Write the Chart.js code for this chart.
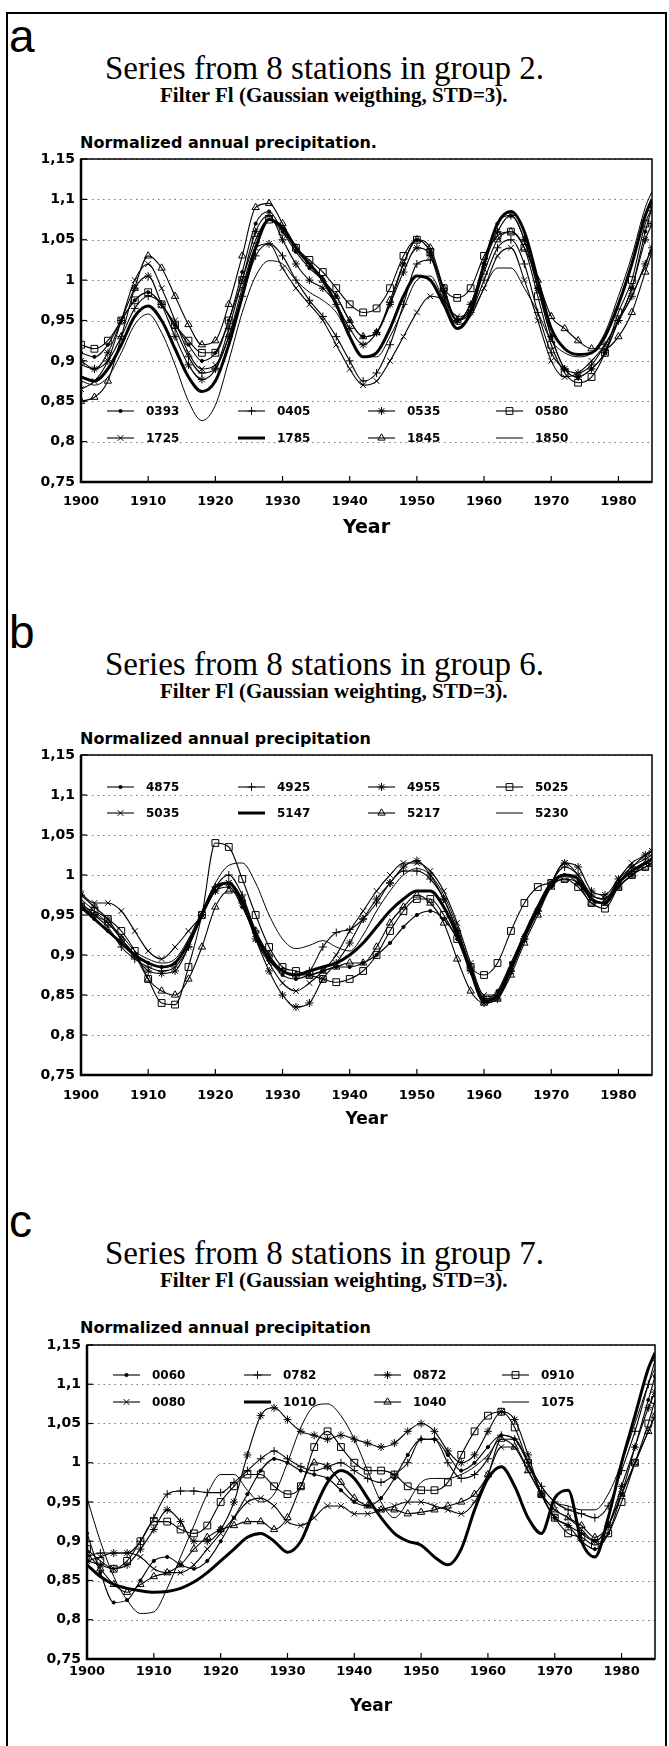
<!DOCTYPE html>
<html>
<head>
<meta charset="utf-8">
<script src="https://cdn.jsdelivr.net/npm/chart.js@4.4.0/dist/chart.umd.min.js"></script>
<style>
  body { margin: 0; background: #fff; width: 669px; height: 1746px; position: relative; overflow: hidden; }
  .frame { position: absolute; left: 6px; top: 12px; width: 657px; height: 1800px; border: 2px solid #000; border-bottom: none; }
  .txt { position: absolute; white-space: nowrap; line-height: 1; color: #000; }
  .letter { font-family: "Liberation Sans"; font-size: 46px; left: 9px; }
  .title { font-family: "Liberation Serif"; font-size: 33px; left: 105px; }
  .sub { font-family: "Liberation Serif"; font-weight: bold; font-size: 21px; left: 160px; }
  .yhead { font-family: "DejaVu Sans"; font-weight: bold; font-size: 16px; left: 80px; }
  canvas { position: absolute; left: 0; }
</style>
</head>
<body>
<div class="frame"></div>

<div class="txt letter" style="top:13px">a</div>
<div class="txt title" style="top:52px">Series from 8 stations in group 2.</div>
<div class="txt sub" style="top:85px">Filter Fl (Gaussian weigthing, STD=3).</div>
<div class="txt yhead" style="top:135px">Normalized annual precipitation.</div>

<div class="txt letter" style="top:609px">b</div>
<div class="txt title" style="top:648px">Series from 8 stations in group 6.</div>
<div class="txt sub" style="top:681px">Filter Fl (Gaussian weighting, STD=3).</div>
<div class="txt yhead" style="top:731px">Normalized annual precipitation</div>

<div class="txt letter" style="top:1198px">c</div>
<div class="txt title" style="top:1237px">Series from 8 stations in group 7.</div>
<div class="txt sub" style="top:1270px">Filter Fl (Gaussian weighting, STD=3).</div>
<div class="txt yhead" style="top:1320px">Normalized annual precipitation</div>

<script>
// Years sampled every 2 years, plus the last year
const years = [1900,1902,1904,1906,1908,1910,1912,1914,1916,1918,1920,
               1922,1924,1926,1928,1930,1932,1934,1936,1938,1940,1942,
               1944,1946,1948,1950,1952,1954,1956,1958,1960,1962,1964,
               1966,1968,1970,1972,1974,1976,1978,1980,1982,1984,1985];
const xTicks = [1900,1910,1920,1930,1940,1950,1960,1970,1980];
const yTicks = [0.75,0.8,0.85,0.9,0.95,1,1.05,1.1,1.15];

// Group 2
const stationsA = ['0393','0405','0535','0580','1725','1785','1845','1850'];
const a0393 = [0.910,0.905,0.920,0.950,0.975,0.985,0.970,0.945,0.920,0.900,0.910,
               0.950,1.010,1.070,1.085,1.060,1.035,1.015,1.000,0.980,0.950,0.930,
               0.935,0.970,1.020,1.050,1.035,0.985,0.950,0.970,1.020,1.070,1.080,
               1.050,0.990,0.930,0.890,0.880,0.890,0.910,0.950,0.990,1.060,1.090];
const a0405 = [0.895,0.890,0.900,0.930,0.965,0.980,0.970,0.940,0.905,0.885,0.890,
               0.930,0.980,1.030,1.045,1.030,1.000,0.975,0.955,0.930,0.900,0.875,
               0.885,0.920,0.970,1.020,1.025,0.990,0.950,0.960,1.000,1.040,1.050,
               1.020,0.960,0.910,0.890,0.885,0.895,0.920,0.950,0.980,1.020,1.040];
const a0535 = [0.900,0.890,0.910,0.950,0.990,1.005,0.970,0.930,0.895,0.877,0.890,
               0.940,1.000,1.060,1.080,1.050,1.020,1.000,0.990,0.970,0.940,0.920,
               0.935,0.970,1.010,1.040,1.030,0.980,0.950,0.970,1.020,1.060,1.080,
               1.050,0.990,0.930,0.890,0.880,0.890,0.910,0.950,0.990,1.050,1.070];
const a0580 = [0.920,0.915,0.925,0.950,0.975,0.985,0.970,0.945,0.925,0.910,0.910,
               0.950,1.000,1.050,1.075,1.060,1.040,1.025,1.010,0.990,0.970,0.960,
               0.965,0.990,1.030,1.050,1.035,0.990,0.978,0.990,1.030,1.055,1.060,
               1.040,0.980,0.920,0.885,0.873,0.880,0.910,0.960,1.000,1.070,1.090];
const a1725 = [0.865,0.875,0.900,0.950,1.000,1.020,0.990,0.950,0.910,0.890,0.895,
               0.930,0.990,1.040,1.045,1.015,0.990,0.970,0.950,0.920,0.890,0.870,
               0.875,0.900,0.930,0.960,0.980,0.975,0.955,0.960,0.990,1.030,1.040,
               1.000,0.950,0.900,0.880,0.885,0.900,0.920,0.950,0.980,1.020,1.040];
const a1785 = [0.880,0.875,0.890,0.920,0.955,0.968,0.950,0.915,0.880,0.862,0.875,
               0.920,0.980,1.040,1.075,1.065,1.040,1.020,1.000,0.970,0.930,0.905,
               0.910,0.940,0.980,1.005,1.000,0.970,0.940,0.960,1.020,1.070,1.085,
               1.060,1.000,0.940,0.915,0.908,0.910,0.930,0.970,1.020,1.080,1.100];
const a1845 = [0.850,0.855,0.875,0.930,0.990,1.030,1.015,0.980,0.945,0.920,0.925,
               0.970,1.030,1.090,1.095,1.070,1.040,1.020,1.000,0.980,0.950,0.930,
               0.935,0.975,1.020,1.050,1.040,0.990,0.950,0.965,1.010,1.050,1.060,
               1.040,1.000,0.955,0.940,0.925,0.915,0.915,0.930,0.960,1.010,1.035];
const a1850 = [0.875,0.870,0.880,0.910,0.945,0.958,0.935,0.895,0.850,0.826,0.845,
               0.900,0.960,1.005,1.024,1.020,1.000,0.985,0.975,0.960,0.930,0.905,
               0.905,0.930,0.965,1.000,1.005,0.975,0.945,0.955,0.990,1.015,1.015,
               0.990,0.960,0.925,0.910,0.905,0.910,0.935,0.980,1.030,1.090,1.110];

// Group 6
const stationsB = ['4875','4925','4955','5025','5035','5147','5217','5230'];
const b4875 = [0.960,0.945,0.930,0.915,0.900,0.890,0.885,0.890,0.915,0.950,0.980,
               0.985,0.960,0.925,0.895,0.875,0.870,0.875,0.880,0.885,0.885,0.890,
               0.900,0.915,0.935,0.950,0.955,0.945,0.920,0.880,0.845,0.855,0.890,
               0.925,0.955,0.985,1.000,0.990,0.970,0.965,0.985,1.000,1.015,1.020];
const b4925 = [0.965,0.950,0.935,0.910,0.895,0.885,0.880,0.885,0.910,0.950,0.985,
               1.000,0.975,0.930,0.900,0.880,0.875,0.880,0.910,0.928,0.932,0.945,
               0.965,0.990,1.005,1.005,0.995,0.970,0.930,0.885,0.845,0.850,0.880,
               0.920,0.955,0.990,1.010,1.000,0.975,0.970,0.990,1.010,1.020,1.025];
const b4955 = [0.975,0.960,0.945,0.920,0.900,0.880,0.877,0.880,0.910,0.950,0.980,
               0.990,0.965,0.920,0.880,0.850,0.835,0.840,0.870,0.890,0.915,0.945,
               0.970,0.990,1.010,1.018,1.000,0.970,0.930,0.880,0.840,0.845,0.880,
               0.920,0.955,0.990,1.015,1.010,0.980,0.975,0.995,1.010,1.025,1.030];
const b5025 = [0.960,0.955,0.945,0.930,0.905,0.870,0.840,0.838,0.885,0.950,1.040,
               1.035,0.995,0.950,0.910,0.885,0.880,0.875,0.870,0.866,0.870,0.880,
               0.900,0.930,0.955,0.970,0.970,0.950,0.920,0.885,0.875,0.890,0.930,
               0.965,0.985,0.990,0.995,0.985,0.965,0.958,0.985,1.000,1.010,1.015];
const b5035 = [0.977,0.965,0.965,0.955,0.930,0.905,0.895,0.910,0.930,0.950,0.980,
               0.990,0.970,0.920,0.890,0.865,0.855,0.865,0.880,0.900,0.930,0.955,
               0.980,1.000,1.015,1.015,1.005,0.980,0.940,0.890,0.850,0.850,0.880,
               0.920,0.955,0.990,1.015,1.000,0.975,0.970,0.995,1.015,1.025,1.030];
const b5147 = [0.960,0.945,0.930,0.915,0.900,0.890,0.885,0.890,0.915,0.950,0.985,
               0.990,0.965,0.925,0.895,0.880,0.875,0.880,0.885,0.890,0.900,0.915,
               0.935,0.955,0.970,0.980,0.980,0.960,0.925,0.880,0.842,0.850,0.885,
               0.925,0.960,0.990,1.000,0.995,0.970,0.965,0.990,1.005,1.015,1.020];
const b5217 = [0.960,0.950,0.940,0.920,0.900,0.870,0.855,0.850,0.870,0.910,0.960,
               0.980,0.970,0.930,0.900,0.880,0.875,0.875,0.880,0.885,0.890,0.890,
               0.910,0.940,0.960,0.975,0.965,0.940,0.895,0.855,0.840,0.845,0.875,
               0.915,0.950,0.985,0.995,0.990,0.965,0.965,0.985,1.000,1.010,1.015];
const b5230 = [0.970,0.955,0.940,0.925,0.905,0.895,0.890,0.895,0.920,0.955,0.990,
               1.012,1.015,0.990,0.950,0.920,0.908,0.912,0.918,0.910,0.905,0.925,
               0.955,0.980,1.000,1.008,1.000,0.975,0.935,0.885,0.848,0.850,0.880,
               0.920,0.955,0.985,1.000,0.995,0.970,0.965,0.985,1.000,1.015,1.020];

// Group 7
const stationsC = ['0060','0782','0872','0910','0080','1010','1040','1075'];
const c0060 = [0.910,0.860,0.822,0.825,0.850,0.875,0.880,0.870,0.865,0.875,0.900,
               0.930,0.960,0.990,1.005,1.000,0.990,0.985,0.980,0.965,0.950,0.945,
               0.955,0.980,1.010,1.030,1.030,1.010,0.990,1.000,1.020,1.035,1.030,
               1.000,0.960,0.930,0.920,0.900,0.890,0.910,0.960,1.020,1.080,1.110];
const c0782 = [0.880,0.885,0.885,0.885,0.900,0.930,0.960,0.964,0.964,0.962,0.962,
               0.975,0.990,1.005,1.015,1.005,0.995,0.990,0.995,1.000,0.990,0.980,
               0.975,0.985,1.000,1.030,1.030,1.000,0.980,0.985,1.005,1.035,1.030,
               1.000,0.970,0.950,0.940,0.935,0.930,0.945,0.990,1.040,1.100,1.130];
const c0872 = [0.875,0.870,0.865,0.870,0.890,0.915,0.940,0.925,0.900,0.900,0.915,
               0.950,1.010,1.060,1.070,1.055,1.040,1.035,1.030,1.035,1.030,1.025,
               1.020,1.025,1.040,1.050,1.040,1.015,1.000,1.010,1.040,1.065,1.055,
               1.010,0.960,0.930,0.920,0.910,0.900,0.920,0.970,1.020,1.070,1.090];
const c0910 = [0.890,0.875,0.865,0.875,0.900,0.925,0.925,0.915,0.910,0.920,0.950,
               0.970,0.985,0.985,0.970,0.960,0.970,1.020,1.040,1.020,1.000,0.990,
               0.990,0.985,0.970,0.965,0.965,0.975,1.010,1.040,1.060,1.065,1.045,
               1.000,0.960,0.930,0.910,0.905,0.895,0.910,0.950,1.000,1.050,1.080];
const c0080 = [0.875,0.880,0.885,0.885,0.880,0.865,0.860,0.860,0.870,0.890,0.910,
               0.930,0.950,0.955,0.945,0.925,0.920,0.930,0.945,0.945,0.935,0.935,
               0.940,0.945,0.950,0.950,0.945,0.940,0.935,0.950,0.985,1.020,1.020,
               0.990,0.960,0.940,0.930,0.915,0.900,0.920,0.960,1.000,1.040,1.060];
const c1010 = [0.870,0.855,0.845,0.840,0.837,0.835,0.836,0.840,0.848,0.860,0.875,
               0.890,0.905,0.910,0.900,0.886,0.900,0.940,0.975,0.990,0.980,0.955,
               0.930,0.910,0.900,0.895,0.880,0.870,0.890,0.940,0.980,0.995,0.970,
               0.930,0.910,0.955,0.965,0.900,0.880,0.930,1.000,1.060,1.120,1.140];
const c1040 = [0.885,0.865,0.845,0.835,0.845,0.855,0.860,0.870,0.890,0.905,0.915,
               0.920,0.925,0.925,0.915,0.930,0.970,1.000,0.995,0.975,0.955,0.945,
               0.940,0.940,0.935,0.937,0.940,0.945,0.950,0.960,0.985,1.030,1.020,
               0.990,0.960,0.940,0.930,0.920,0.905,0.920,0.960,1.000,1.040,1.060];
const c1075 = [0.955,0.900,0.855,0.825,0.808,0.810,0.840,0.880,0.920,0.960,0.985,
               0.985,0.965,0.950,0.960,1.000,1.045,1.072,1.075,1.060,1.030,0.990,
               0.950,0.930,0.950,0.975,0.980,0.980,0.985,0.995,1.010,1.030,1.030,
               1.000,0.970,0.950,0.945,0.940,0.940,0.960,1.000,1.050,1.100,1.120];

// line / marker look for each legend slot (same in all three panels)
const looks = [
  { pointStyle: 'circle',   pointRadius: 1.6, borderWidth: 1.1, fill: '#000' },
  { pointStyle: 'cross',    pointRadius: 4,   borderWidth: 1.1, fill: 'rgba(0,0,0,0)' },
  { pointStyle: 'star',     pointRadius: 4,   borderWidth: 1.1, fill: 'rgba(0,0,0,0)' },
  { pointStyle: 'rect',     pointRadius: 4.8, borderWidth: 1.1, fill: 'rgba(0,0,0,0)' },
  { pointStyle: 'crossRot', pointRadius: 4,   borderWidth: 1.1, fill: 'rgba(0,0,0,0)' },
  { pointStyle: 'circle',   pointRadius: 0,   borderWidth: 3,   fill: '#000' },
  { pointStyle: 'triangle', pointRadius: 4.2, borderWidth: 1.1, fill: 'rgba(0,0,0,0)' },
  { pointStyle: 'circle',   pointRadius: 0,   borderWidth: 1,   fill: '#000' }
];

const panels = [
  { stations: stationsA, series: [a0393, a0405, a0535, a0580, a1725, a1785, a1845, a1850],
    top: 159, bottom: 482, left: 81, right: 652, tickPad: 12, yearSize: 19, axisH: 57, rows: [252, 279] },
  { stations: stationsB, series: [b4875, b4925, b4955, b5025, b5035, b5147, b5217, b5230],
    top: 755, bottom: 1075, left: 81, right: 652, tickPad: 13, yearSize: 17, axisH: 55, rows: [32, 58] },
  { stations: stationsC, series: [c0060, c0782, c0872, c0910, c0080, c1010, c1040, c1075],
    top: 1345, bottom: 1659, left: 87, right: 655, tickPad: 5, yearSize: 17, axisH: 58, rows: [30, 57] }
];

const legendCols = [26, 157, 287, 415];
const boldFont = size => ({ family: 'DejaVu Sans', weight: 'bold', size: size });

// dotted grid, plot box and inward tick marks
const framePlugin = {
  id: 'framePlugin',
  beforeDatasetsDraw(chart) {
    const { ctx, chartArea: a, scales: { y } } = chart;
    ctx.save();
    ctx.strokeStyle = '#777';
    ctx.lineWidth = 1;
    ctx.setLineDash([1.5, 4]);
    yTicks.forEach(v => {
      const py = Math.round(y.getPixelForValue(v)) + 0.5;
      ctx.beginPath(); ctx.moveTo(a.left, py); ctx.lineTo(a.right, py); ctx.stroke();
    });
    ctx.restore();
  },
  afterDraw(chart) {
    const { ctx, chartArea: a, scales: { x, y } } = chart;
    ctx.save();
    ctx.strokeStyle = '#000';
    ctx.lineWidth = 1.5;
    ctx.strokeRect(a.left, a.top, a.right - a.left, a.bottom - a.top);
    ctx.lineWidth = 2.5;
    ctx.beginPath();
    ctx.moveTo(a.left, a.top); ctx.lineTo(a.left, a.bottom); ctx.lineTo(a.right, a.bottom);
    ctx.stroke();
    ctx.lineWidth = 1.2;
    xTicks.forEach(v => {
      const px = x.getPixelForValue(v);
      ctx.beginPath(); ctx.moveTo(px, a.bottom); ctx.lineTo(px, a.bottom - 6); ctx.stroke();
    });
    yTicks.forEach(v => {
      const py = y.getPixelForValue(v);
      ctx.beginPath(); ctx.moveTo(a.left, py); ctx.lineTo(a.left + 6, py); ctx.stroke();
    });
    ctx.restore();
  }
};

// legend drawn inside the plot box, 4 columns x 2 rows
const boxLegend = {
  id: 'boxLegend',
  afterDatasetsDraw(chart, args, opts) {
    const { ctx, chartArea: a } = chart;
    ctx.save();
    chart.data.datasets.forEach((ds, i) => {
      const x = a.left + legendCols[i % 4];
      const y = a.top + opts.rows[Math.floor(i / 4)];
      ctx.strokeStyle = '#000';
      ctx.lineWidth = ds.borderWidth;
      ctx.beginPath(); ctx.moveTo(x, y); ctx.lineTo(x + 27, y); ctx.stroke();
      if (ds.pointRadius > 0) {
        ctx.lineWidth = 1;
        ctx.fillStyle = ds.pointBackgroundColor;
        Chart.helpers.drawPoint(ctx, { pointStyle: ds.pointStyle, radius: ds.pointRadius, borderWidth: 1, rotation: 0 }, x + 13.5, y);
      }
      ctx.fillStyle = '#000';
      ctx.font = 'bold 12px "DejaVu Sans"';
      ctx.textBaseline = 'middle';
      ctx.fillText(ds.label, x + 39, y + 1);
    });
    ctx.restore();
  }
};

panels.forEach(p => {
  const canvas = document.createElement('canvas');
  const h = 20 + (p.bottom - p.top) + p.axisH;
  canvas.width = 669;
  canvas.height = h;
  canvas.style.top = (p.top - 20) + 'px';
  document.body.appendChild(canvas);

  const datasets = p.series.map((vals, i) => ({
    label: p.stations[i],
    data: years.map((yr, k) => ({ x: yr, y: vals[k] })),
    borderColor: '#000',
    borderWidth: looks[i].borderWidth,
    pointStyle: looks[i].pointStyle,
    pointRadius: looks[i].pointRadius,
    pointBorderWidth: 1,
    pointBorderColor: '#000',
    pointBackgroundColor: looks[i].fill,
    fill: false,
    cubicInterpolationMode: 'monotone'
  }));

  new Chart(canvas.getContext('2d'), {
    type: 'line',
    data: { datasets },
    options: {
      responsive: false,
      animation: false,
      events: [],
      layout: { padding: { left: p.left - 70, right: 669 - p.right, top: 20, bottom: 0 } },
      plugins: {
        legend: { display: false },
        tooltip: { enabled: false },
        boxLegend: { rows: p.rows }
      },
      scales: {
        x: {
          type: 'linear', min: 1900, max: 1985,
          afterBuildTicks: s => { s.ticks = xTicks.map(v => ({ value: v })); },
          afterFit: s => { s.height = p.axisH; },
          grid: { display: false, drawTicks: false, tickLength: 0 },
          border: { display: false },
          ticks: { padding: p.tickPad, color: '#000', font: boldFont(13), maxRotation: 0, autoSkip: false,
                   callback: v => String(v) },
          title: { display: true, text: 'Year', color: '#000', font: boldFont(p.yearSize), padding: 0 }
        },
        y: {
          min: 0.75, max: 1.15,
          afterBuildTicks: s => { s.ticks = yTicks.map(v => ({ value: v })); },
          afterFit: s => { s.width = 70; },
          grid: { display: false, drawTicks: false, tickLength: 0 },
          border: { display: false },
          ticks: { padding: 6, color: '#000', font: boldFont(14),
                   callback: v => String(Math.round(v * 100) / 100).replace('.', ',') }
        }
      }
    },
    plugins: [framePlugin, boxLegend]
  });
});
</script>
</body>
</html>
